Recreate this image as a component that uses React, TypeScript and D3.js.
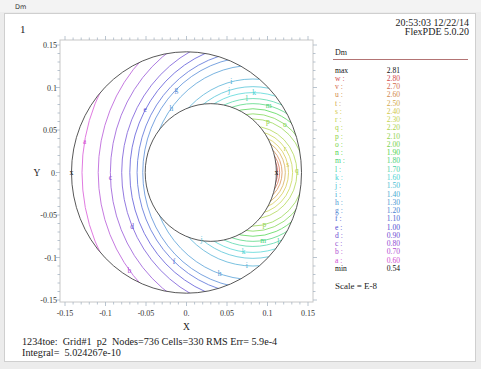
import React from 'react';
import * as d3 from 'd3';

const W = 481;
const H = 369;

// annulus (data units)
const outerR = 0.142;
const innerCx = 0.03;
const innerR = 0.081;

// contour levels
const levelLetters = ['a', 'b', 'c', 'd', 'e', 'f', 'g', 'h', 'i', 'j', 'k', 'l', 'm', 'n', 'o', 'p', 'q', 'r', 's', 't', 'u', 'v', 'w'];
const levelValues = [0.6, 0.7, 0.8, 0.9, 1.0, 1.1, 1.2, 1.3, 1.4, 1.5, 1.6, 1.7, 1.8, 1.9, 2.0, 2.1, 2.2, 2.3, 2.4, 2.5, 2.6, 2.7, 2.8];
// each contour read as a circle round a focus on the x axis
const contourFocus = 0.082;
const contourRadius = [0.211, 0.191, 0.176, 0.162, 0.152, 0.143, 0.136, 0.126, 0.11, 0.101, 0.094, 0.087, 0.081, 0.075, 0.069, 0.063, 0.0544, 0.049, 0.044, 0.04, 0.036, 0.033, 0.0305];

// letter labels on the contours (angle round the focus, degrees)
const labelLetters = ['a', 'b', 'c', 'd', 'e', 'f', 'g', 'h', 'h', 'i', 'i', 'j', 'j', 'k', 'k', 'l', 'l', 'm', 'm', 'o', 'p', 'p', 'q', 'r', 's'];
const labelAngles = [170, 217, 182, 203, 151, 227, 134, 143, 251, 104, 266, 107, 231, 89, 263, 95, 291, 76, 279, 55, 73, 283, 3, 36, 13];

const maxValue = 2.81;
const minValue = 0.54;
const maxPoint = [0.111, 0];
const minPoint = [-0.142, 0];

const xTickValues = [-0.15, -0.1, -0.05, 0, 0.05, 0.1, 0.15];
const xTickLabels = ['-0.15', '-0.1', '-0.05', '0.', '0.05', '0.1', '0.15'];
const yTickValues = [0.15, 0.1, 0.05, 0, -0.05, -0.1, -0.15];
const yTickLabels = ['0.15', '0.1', '0.05', '0.', '-0.05', '-0.1', '-0.15'];

const serif = "'Liberation Serif', 'Times New Roman', serif";

export default function App() {
  const x = d3.scaleLinear().domain([-0.15, 0.15]).range([65, 308]);
  const y = d3.scaleLinear().domain([-0.15, 0.15]).range([300, 45]);
  const frame = { left: 60, right: 313, top: 40, bottom: 302 };

  const hue = d3.scaleLinear().domain([0, 3, 6, 10, 14, 18, 22]).range([300, 255, 215, 180, 100, 55, 0]);
  const lineColor = (i: number) => d3.hsl(hue(i), 0.62, 0.62).formatHex();
  const textColor = (i: number) => d3.hsl(hue(i), 0.6, 0.56).formatHex();

  const rx = (r: number) => x(r) - x(0);
  const ry = (r: number) => y(0) - y(r);

  const minor = d3.range(-15, 16).map((k) => k / 100);

  const legendRows = [
    { key: 'max', val: maxValue, color: '#111' },
    ...levelLetters.map((l, i) => ({ key: l + ' :', val: levelValues[i], color: textColor(i) })).reverse(),
    { key: 'min', val: minValue, color: '#111' },
  ];
  const legendY = d3.scaleLinear().domain([0, legendRows.length - 1]).range([72.5, 271]);

  return (
    <svg width={W} height={H} style={{ position: 'absolute', left: 0, top: 0 }} fontFamily={serif}>
      <rect x={0} y={0} width={W} height={H} fill="#ececec" />
      <rect x={0} y={0} width={W} height={12} fill="#f3f3f3" />
      <text x={15} y={9} fontSize={6.5} fontFamily="'DejaVu Sans', sans-serif" fill="#333">Dm</text>
      <rect x={4.5} y={13.5} width={471} height={348} fill="#fff" stroke="#cfcfcf" />

      <text x={20} y={33} fontSize={11} fill="#222">1</text>
      <text x={469} y={25.5} fontSize={10} textAnchor="end" fill="#222">20:53:03 12/22/14</text>
      <text x={469} y={35} fontSize={10} textAnchor="end" fill="#222">FlexPDE 5.0.20</text>

      {/* plot frame and ticks */}
      <rect x={frame.left} y={frame.top} width={frame.right - frame.left} height={frame.bottom - frame.top} fill="none" stroke="#c8c8c8" />
      {minor.map((v, k) => {
        const major = Math.abs(Math.round(v * 100) % 5) === 0;
        const len = major ? 4 : 2.5;
        return (
          <g key={k} stroke="#a8b6c4" strokeWidth={0.8}>
            <line x1={x(v)} x2={x(v)} y1={frame.bottom} y2={frame.bottom + len} />
            <line x1={x(v)} x2={x(v)} y1={frame.top} y2={frame.top - len} />
            <line x1={frame.left} x2={frame.left - len} y1={y(v)} y2={y(v)} />
            <line x1={frame.right} x2={frame.right + len} y1={y(v)} y2={y(v)} />
          </g>
        );
      })}
      {xTickValues.map((v, i) => (
        <text key={'xt' + i} x={x(v)} y={316} fontSize={8} textAnchor="middle" fill="#333">{xTickLabels[i]}</text>
      ))}
      {yTickValues.map((v, i) => (
        <text key={'yt' + i} x={57} y={y(v) + 3} fontSize={8} textAnchor="end" fill="#333">{yTickLabels[i]}</text>
      ))}
      <text x={x(0)} y={330} fontSize={9.5} textAnchor="middle" fill="#222">X</text>
      <text x={37} y={y(0) + 3} fontSize={9.5} textAnchor="middle" fill="#222">Y</text>

      <defs>
        <mask id="annulus">
          <rect x={0} y={0} width={W} height={H} fill="#000" />
          <ellipse cx={x(0)} cy={y(0)} rx={rx(outerR)} ry={ry(outerR)} fill="#fff" />
          <ellipse cx={x(innerCx)} cy={y(0)} rx={rx(innerR)} ry={ry(innerR)} fill="#000" />
        </mask>
      </defs>

      <g mask="url(#annulus)" fill="none" strokeWidth={0.85}>
        {contourRadius.map((r, i) => (
          <ellipse key={i} cx={x(contourFocus)} cy={y(0)} rx={rx(r)} ry={ry(r)} stroke={lineColor(i)} />
        ))}
      </g>

      <ellipse cx={x(0)} cy={y(0)} rx={rx(outerR)} ry={ry(outerR)} fill="none" stroke="#3a3a3a" strokeWidth={0.85} />
      <ellipse cx={x(innerCx)} cy={y(0)} rx={rx(innerR)} ry={ry(innerR)} fill="none" stroke="#3a3a3a" strokeWidth={0.85} />

      {labelLetters.map((l, k) => {
        const i = levelLetters.indexOf(l);
        const a = (labelAngles[k] * Math.PI) / 180;
        const r = contourRadius[i];
        return (
          <text key={'lb' + k} x={x(contourFocus + r * Math.cos(a))} y={y(r * Math.sin(a)) + 2.5} fontSize={7.5} textAnchor="middle" fill={textColor(i)}>
            {l}
          </text>
        );
      })}
      {[maxPoint, minPoint].map((p, k) => (
        <text key={'mk' + k} x={x(p[0])} y={y(p[1]) + 2.5} fontSize={8} textAnchor="middle" fill="#222">x</text>
      ))}

      {/* legend */}
      <text x={335} y={55} fontSize={8} fill="#222">Dm</text>
      <line x1={333} x2={468} y1={59.5} y2={59.5} stroke="#a05050" strokeWidth={0.8} />
      {legendRows.map((row, k) => (
        <g key={'lg' + k} fontSize={7.6} fill={row.color}>
          <text x={335} y={legendY(k)}>{row.key}</text>
          <text x={400} y={legendY(k)} textAnchor="end">{row.val.toFixed(2)}</text>
        </g>
      ))}
      <text x={335} y={289} fontSize={9} fill="#222">Scale = E-8</text>

      <text x={22} y={345} fontSize={10.2} fill="#222" style={{ whiteSpace: 'pre' }}>{'1234toe:  Grid#1  p2  Nodes=736 Cells=330 RMS Err= 5.9e-4'}</text>
      <text x={22} y={356} fontSize={10.2} fill="#222" style={{ whiteSpace: 'pre' }}>{'Integral=  5.024267e-10'}</text>
    </svg>
  );
}
